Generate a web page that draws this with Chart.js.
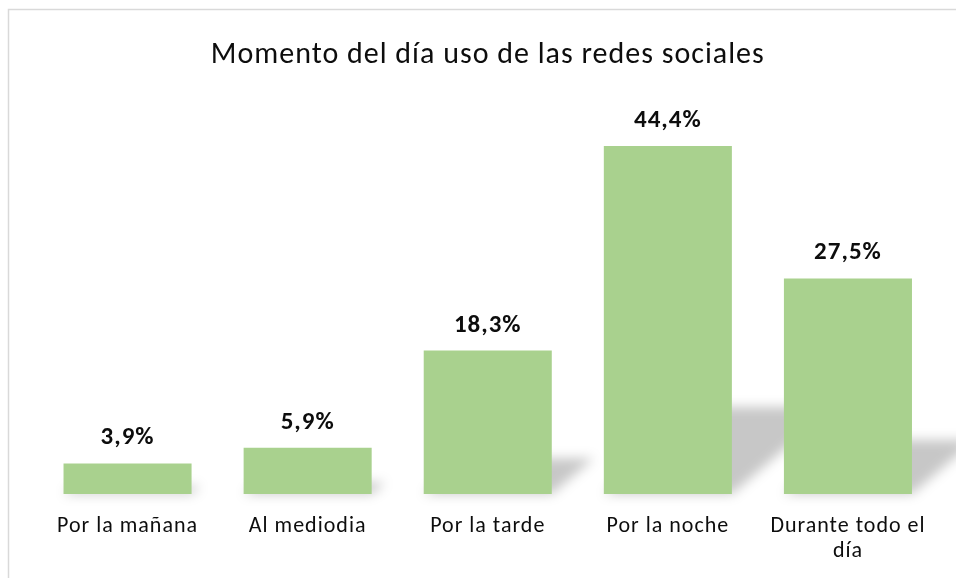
<!DOCTYPE html>
<html>
<head>
<meta charset="utf-8">
<script src="https://cdn.jsdelivr.net/npm/chart.js@4.4.1/dist/chart.umd.min.js"></script>
<style>
  html, body { margin: 0; padding: 0; background: #fff; }
  #wrap { width: 956px; height: 578px; }
</style>
</head>
<body>
<div id="wrap"><canvas id="momentoChart" width="956" height="578"></canvas></div>
<script>
// datos del gráfico
var chartTitle = 'Momento del día uso de las redes sociales';
var categories = ['Por la mañana', 'Al mediodia', 'Por la tarde', 'Por la noche', ['Durante todo el', 'día']];
var percentages = [3.9, 5.9, 18.3, 44.4, 27.5];
var axisMax = 50;

var fontFamily = 'Carlito, Calibri, Lato, sans-serif';

// borde gris del área del gráfico (y un poco de espaciado entre letras, como en Excel)
var frameBorder = {
    id: 'frameBorder',
    beforeDraw: function(chart) {
        var ctx = chart.ctx;
        ctx.letterSpacing = '1px';
        ctx.save();
        ctx.fillStyle = '#ffffff';
        ctx.fillRect(0, 0, chart.width, chart.height);
        ctx.strokeStyle = '#d9d9d9';
        ctx.lineWidth = 1.5;
        ctx.beginPath();
        ctx.moveTo(8.5, chart.height + 2);
        ctx.lineTo(8.5, 9.5);
        ctx.lineTo(chart.width + 2, 9.5);
        ctx.stroke();
        ctx.restore();
    }
};

// sombra en perspectiva detrás de cada barra
var barShadows = {
    id: 'barShadows',
    beforeDatasetsDraw: function(chart) {
        var ctx = chart.ctx;
        var meta = chart.getDatasetMeta(0);
        ctx.save();
        ctx.filter = 'blur(6px)';
        ctx.fillStyle = 'rgba(0,0,0,0.22)';
        meta.data.forEach(function(bar) {
            var h = (bar.base - bar.y) * 0.25;
            var skew = h * 1.17;
            var left = bar.x - bar.width / 2;
            var right = bar.x + bar.width / 2;
            ctx.beginPath();
            ctx.moveTo(left, bar.base);
            ctx.lineTo(right, bar.base);
            ctx.lineTo(right + skew, bar.base - h);
            ctx.lineTo(left + skew, bar.base - h);
            ctx.closePath();
            ctx.fill();
        });
        ctx.restore();
    }
};

// etiquetas de valor encima de las barras
var valueLabels = {
    id: 'valueLabels',
    afterDatasetsDraw: function(chart) {
        var ctx = chart.ctx;
        var meta = chart.getDatasetMeta(0);
        ctx.save();
        ctx.font = 'bold 25px ' + fontFamily;
        ctx.fillStyle = '#0d0d0d';
        ctx.textAlign = 'center';
        ctx.textBaseline = 'alphabetic';
        meta.data.forEach(function(bar, i) {
            var txt = percentages[i].toFixed(1).replace('.', ',') + '%';
            ctx.fillText(txt, bar.x, bar.y - 19);
        });
        ctx.restore();
    }
};

var ctx = document.getElementById('momentoChart').getContext('2d');
var momentoChart = new Chart(ctx, {
    type: 'bar',
    data: {
        labels: categories,
        datasets: [{
            label: 'Porcentaje',
            data: percentages,
            backgroundColor: '#a9d18e',
            borderWidth: 0,
            categoryPercentage: 1,
            barPercentage: 0.711
        }]
    },
    options: {
        responsive: false,
        animation: false,
        devicePixelRatio: 1,
        layout: {
            padding: { left: 37.5, right: 18, top: 0, bottom: 0 }
        },
        scales: {
            x: {
                offset: true,
                border: { display: false },
                grid: { display: false, drawTicks: false },
                ticks: {
                    color: '#0d0d0d',
                    padding: 20,
                    maxRotation: 0,
                    font: { family: fontFamily, size: 22, lineHeight: 1.14 }
                },
                afterFit: function(scale) {
                    scale.height = 84;
                }
            },
            y: {
                display: false,
                min: 0,
                max: axisMax
            }
        },
        plugins: {
            legend: { display: false },
            tooltip: { enabled: false },
            title: {
                display: true,
                text: chartTitle,
                color: '#0d0d0d',
                font: { family: fontFamily, size: 30, weight: 'normal', lineHeight: 1.2 },
                padding: { top: 37, bottom: 29 }
            }
        }
    },
    plugins: [frameBorder, barShadows, valueLabels]
});
</script>
</body>
</html>
